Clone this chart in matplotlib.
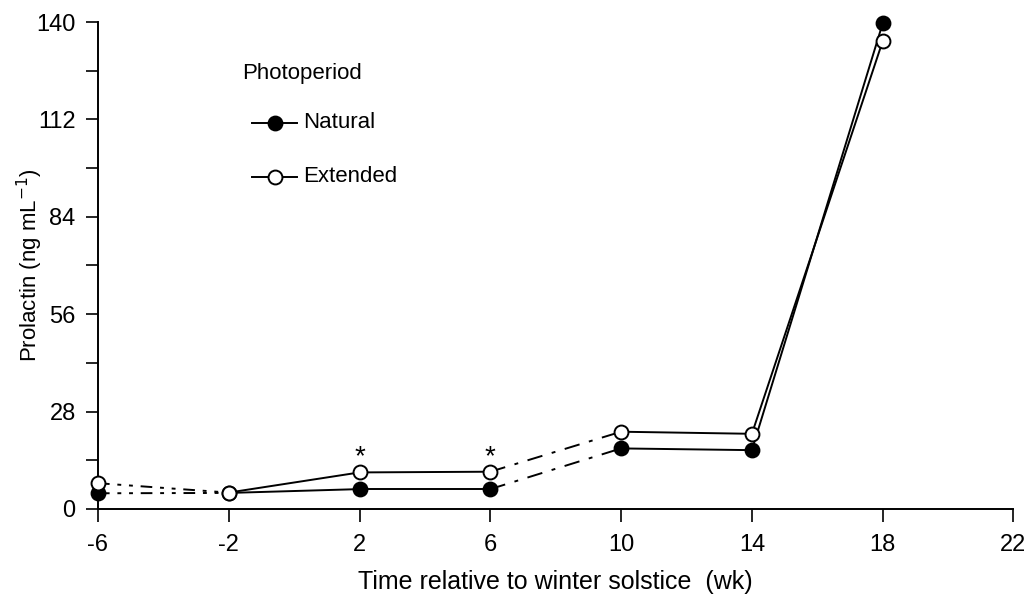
import matplotlib.pyplot as plt
import numpy as np

plt.rcParams['font.family'] = ['Liberation Sans', 'DejaVu Sans']
plt.rcParams['axes.unicode_minus'] = False

# Data
weeks = [-6, -2, 2, 6, 10, 14, 18]
natural = [4.5, 4.6, 5.7, 5.7, 17.4, 16.9, 139.6]
extended = [7.4, 4.7, 10.5, 10.7, 22.2, 21.6, 134.5]
# line style for each segment between successive sampling points
seg_styles = [(0, (6, 4, 2, 4, 2, 4)), '-', '-', (0, (8, 5, 2, 5)), '-', '-']
star_weeks = [2, 6]
star_y = 15.0

fig = plt.figure(figsize=(10.31, 6.03), dpi=100)
ax = fig.add_axes([0.095, 0.156, 0.888, 0.8075])

for series, face in [(natural, 'black'), (extended, 'white')]:
    for i in range(len(weeks) - 1):
        ax.plot(weeks[i:i + 2], series[i:i + 2], color='black', linewidth=1.4,
                linestyle=seg_styles[i], zorder=2)
    ax.plot(weeks, series, linestyle='none', marker='o', markersize=10,
            markerfacecolor=face, markeredgecolor='black', markeredgewidth=1.4, zorder=3)

for w in star_weeks:
    ax.text(w, star_y, '*', ha='center', va='center', fontsize=20)

# legend drawn by hand in axes coordinates
ax.text(0.157, 0.895, 'Photoperiod', transform=ax.transAxes, fontsize=16, va='center')
for k, (lab, face) in enumerate([('Natural', 'black'), ('Extended', 'white')]):
    yy = [0.793, 0.682][k]
    ax.plot([0.168, 0.217], [yy, yy], transform=ax.transAxes, color='black', linewidth=1.4)
    ax.plot([0.193], [yy], transform=ax.transAxes, marker='o', markersize=10,
            markerfacecolor=face, markeredgecolor='black', markeredgewidth=1.4)
    ax.text(0.224, yy, lab, transform=ax.transAxes, fontsize=16, va='center')

ax.set_xlim(-6, 22)
ax.set_ylim(0, 140)
ax.set_xticks(np.arange(-6, 23, 4))
ax.set_yticks(np.arange(0, 141, 28))
ax.set_yticks(np.arange(14, 141, 28), minor=True)
ax.spines['top'].set_visible(False)
ax.spines['right'].set_visible(False)
ax.spines['left'].set_linewidth(1.4)
ax.spines['bottom'].set_linewidth(1.4)
ax.tick_params(axis='both', which='major', length=9, width=1.2, labelsize=17, direction='out')
ax.tick_params(axis='y', which='minor', length=9, width=1.2, direction='out')
ax.tick_params(axis='x', pad=9)
ax.tick_params(axis='y', pad=7)
ax.set_xlabel('Time relative to winter solstice  (wk)', fontsize=18)
ax.set_ylabel('Prolactin (ng mL$^{-1}$)', fontsize=16)
ax.xaxis.set_label_coords(0.5, -0.125)
ax.yaxis.set_label_coords(-0.058, 0.5)
for ln in ax.lines:
    ln.set_clip_on(False)

plt.savefig('out.png', dpi=100)
